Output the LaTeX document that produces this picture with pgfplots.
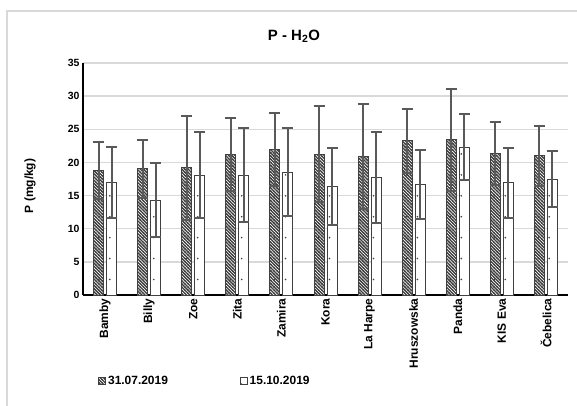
\documentclass[border=0pt]{standalone}
\usepackage{fontspec}
\setmainfont{Liberation Sans}
\usepackage{pgfplots}
\usepackage{pgfplotstable}
\pgfplotsset{compat=1.18}
\usetikzlibrary{patterns}
\definecolor{gridgray}{HTML}{D9D9D9}
\definecolor{errgray}{HTML}{595959}
\definecolor{barline}{HTML}{404040}

% dense diagonal hatch (\\\)
\pgfdeclarepatternformonly{hatch}{\pgfqpoint{-1pt}{-1pt}}{\pgfqpoint{4.2pt}{4.2pt}}{\pgfqpoint{3.2pt}{3.2pt}}{%
  \pgfsetlinewidth{1.3pt}%
  \pgfpathmoveto{\pgfqpoint{-0.5pt}{3.7pt}}%
  \pgfpathlineto{\pgfqpoint{3.7pt}{-0.5pt}}%
  \pgfusepath{stroke}}
% sparse dots
\pgfdeclarepatternformonly{sparsedots}{\pgfqpoint{-1pt}{-1pt}}{\pgfqpoint{1pt}{1pt}}{\pgfqpoint{11.025pt}{21pt}}{%
  \pgfpathcircle{\pgfqpoint{0pt}{0pt}}{0.9pt}%
  \pgfusepath{fill}}

\pgfplotstableread{
x  y1    e1    y2    e2
0  18.85 4.30  17.00 5.35
1  19.05 4.35  14.30 5.55
2  19.20 7.85  18.10 6.55
3  21.20 5.50  18.10 7.15
4  21.90 5.50  18.55 6.60
5  21.25 7.20  16.40 5.80
6  20.85 7.90  17.70 6.85
7  23.25 4.85  16.70 5.20
8  23.45 7.70  22.30 5.00
9  21.35 4.70  16.90 5.25
10 21.00 4.50  17.50 4.25
}\datatable

\begin{document}
\begin{tikzpicture}[x=1bp,y=1bp]
\useasboundingbox (0,0) rectangle (577,405);
\draw[gridgray, line width=1.5bp] (7,-10) -- (7,394) -- (600,394);
\begin{axis}[
  at={(83bp,110bp)}, anchor=south west,
  scale only axis, width=485bp, height=232bp,
  ymin=0, ymax=35, ytick={0,5,...,35},
  xmin=-0.5, xmax=10.5,
  xtick={0,...,10},
  xticklabels={Bamby,Billy,Zoe,Zita,Zamira,Kora,La Harpe,Hruszowska,Panda,KIS Eva,Čebelica},
  x tick label style={rotate=90, anchor=east, font=\bfseries\fontsize{12}{14}\selectfont},
  y tick label style={font=\bfseries\fontsize{10.5}{12}\selectfont},
  /pgf/number format/assume math mode=true,
  ymajorgrids, grid style={gridgray, line width=1.3bp},
  axis x line*=bottom, axis y line*=left,
  axis line style={black, line width=2bp, -},
  major tick length=0pt,
  ybar=3bp, bar width=10bp,
  title={P - H\textsubscript{2}O},
  title style={font=\bfseries\fontsize{15}{17}\selectfont, at={(axis description cs:0.435,1.09)}, anchor=center},
  ylabel={P (mg/kg)},
  ylabel style={font=\bfseries\fontsize{12}{14}\selectfont, at={(axis description cs:-0.109,0.47)}, anchor=center},
  error bars/y dir=both, error bars/y explicit,
  error bars/error bar style={errgray, line width=2bp},
  error bars/error mark options={rotate=90, errgray, mark size=5.5bp, line width=2bp},
  legend style={draw=none, fill=none, at={(axis description cs:0.025,-0.372)}, anchor=west,
    font=\bfseries\fontsize{12}{14}\selectfont, /tikz/every even column/.append style={column sep=70bp}},
  legend columns=2,
  legend image code/.code={\draw[#1, line width=0.8bp] (0bp,-3.5bp) rectangle (7bp,3.5bp);},
]
\addplot[draw=barline, line width=1bp, fill=white,
  postaction={pattern=hatch, pattern color=barline},
  postaction={pattern=sparsedots, pattern color=barline}]
  table[x=x, y=y1, y error=e1] {\datatable};
\addplot[draw=barline, line width=1bp, fill=white,
  postaction={pattern=sparsedots, pattern color=barline}]
  table[x=x, y=y2, y error=e2] {\datatable};
\legend{31.07.2019, 15.10.2019}
\end{axis}
\end{tikzpicture}
\end{document}
